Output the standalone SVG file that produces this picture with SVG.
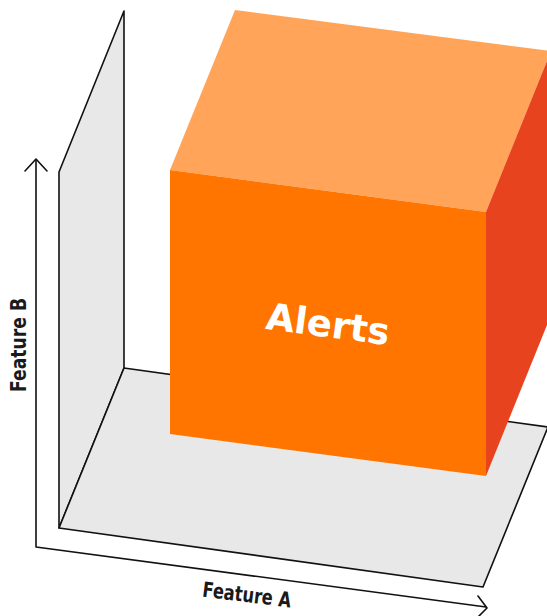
<svg xmlns="http://www.w3.org/2000/svg" width="547" height="616" viewBox="0 0 547 616">
<style>
.plane{fill:#e8e8e8;stroke:#111;stroke-width:1.6;stroke-linejoin:round}
.axis{fill:none;stroke:#111;stroke-width:1.6;stroke-linecap:round;stroke-linejoin:round}
.lbl{font-family:"DejaVu Sans Condensed","DejaVu Sans",sans-serif;font-weight:bold;fill:#1a1a1a;font-size:21px}
</style>
<rect width="547" height="616" fill="#fff"/>
<g id="back-wall">
<polygon class="plane" points="59,172 124,11 124,368 59,528"/>
</g>
<g id="floor">
<polygon class="plane" points="59,528 124,368 548,427 483,587"/>
</g>
<g id="axes">
<polyline class="axis" points="36,160 36,547 486,607"/>
<polyline class="axis" points="25,171 36,159 47,171"/>
<polyline class="axis" points="478,596 487,608 478,617"/>
</g>
<g id="cube">
<polygon fill="#ffa459" points="170,170 235,10 551,51 486,212"/>
<polygon fill="#e8431f" points="486,212 551,51 551,315 486,476"/>
<polygon fill="#ff7500" points="170,170 486,212 486,476 170,434"/>
<text x="328" y="337" transform="rotate(7.6 328 324)" text-anchor="middle" font-family="'DejaVu Sans',sans-serif" font-weight="bold" font-size="37" fill="#fff">Alerts</text>
</g>
<g id="labels">
<text class="lbl" x="0" y="0" transform="translate(26 345) rotate(-90)" text-anchor="middle" textLength="94" lengthAdjust="spacingAndGlyphs">Feature B</text>
<text class="lbl" x="0" y="0" transform="translate(246 602) rotate(7)" text-anchor="middle" textLength="89" lengthAdjust="spacingAndGlyphs">Feature A</text>
</g>
</svg>
